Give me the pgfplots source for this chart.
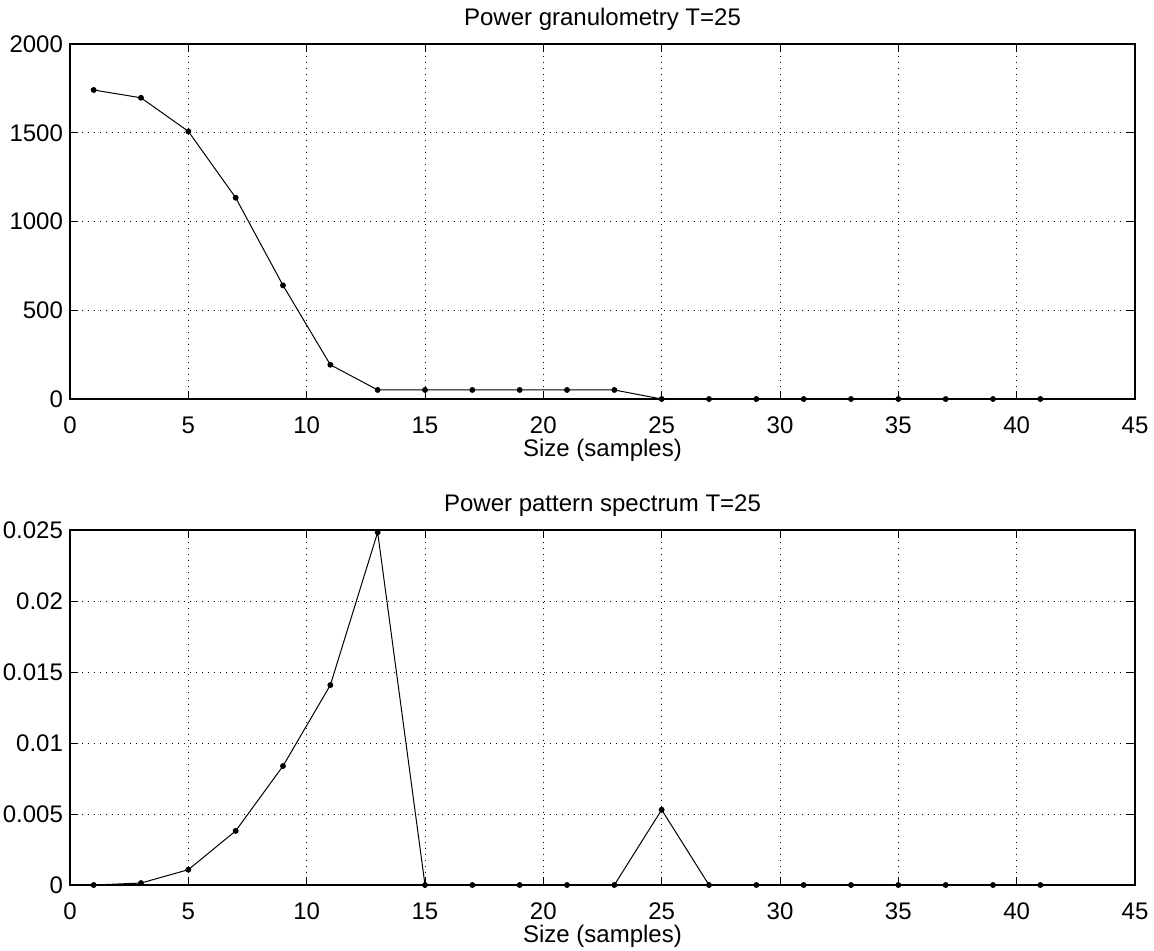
\documentclass[border=0pt]{standalone}
\usepackage{pgfplots}
\pgfplotsset{compat=1.18}
\usepackage{fontspec}
\setmainfont{Liberation Sans}
\pgfplotstableread{
x y
1 1741
3 1697
5 1508
7 1134
9 640
11 193
13 51
15 51
17 51
19 51
21 51
23 51
25 0
27 0
29 0
31 0
33 0
35 0
37 0
39 0
41 0
}\granulo
\pgfplotstableread{
x y
1 0
3 0.00014
5 0.00108
7 0.00381
9 0.00838
11 0.01408
13 0.02484
15 0
17 0
19 0
21 0
23 0
25 0.0053
27 0
29 0
31 0
33 0
35 0
37 0
39 0
41 0
}\spectrum
\pgfplotsset{
  myax/.style={
    scale only axis, width=532.5pt, height=177.5pt,
    xmin=0, xmax=45, xtick={0,5,...,45},
    grid=major,
    major grid style={black, line width=0.5pt, dash pattern=on 0.5pt off 2.5pt},
    tick align=inside, major tick length=4pt,
    tick style={black, line width=0.5pt},
    axis line style={line width=0.6pt},
    font=\fontsize{12}{14}\selectfont,
    xlabel={Size (samples)},
    xlabel style={at={(axis description cs:0.5,0)}, anchor=north, yshift=-16.5pt},
    title style={yshift=-3pt},
    /pgf/number format/assume math mode=true,
    /pgf/number format/1000 sep={},
  },
  myplot/.style={black, line width=0.5pt, mark=*, mark size=1.2pt, mark options={black}},
}
\begin{document}
\begin{tikzpicture}
\useasboundingbox (-35pt,22pt) rectangle (542pt,-453pt);
\begin{axis}[myax, name=top, anchor=north west, at={(0pt,0pt)},
  ymin=0, ymax=2000, ytick={0,500,...,2000},
  x tick label style={yshift=-5.5pt},
  title={Power granulometry T=25}]
\addplot[myplot] table[x=x,y=y] {\granulo};
\end{axis}
\begin{axis}[myax, name=bot, anchor=north west, at={(0pt,-243pt)},
  ymin=0, ymax=0.025, ytick={0,0.005,0.01,0.015,0.02,0.025},
  scaled y ticks=false,
  x tick label style={yshift=-5.5pt},
  yticklabel style={/pgf/number format/fixed, /pgf/number format/precision=3},
  title={Power pattern spectrum T=25}]
\addplot[myplot] table[x=x,y=y] {\spectrum};
\end{axis}
\end{tikzpicture}
\end{document}
